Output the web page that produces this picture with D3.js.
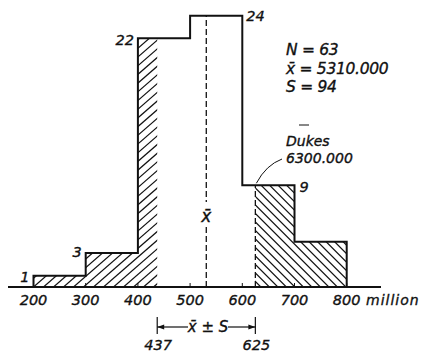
<!DOCTYPE html>
<html>
<head>
<meta charset="utf-8">
<script src="https://cdn.jsdelivr.net/npm/d3@7"></script>
<style>
  body { margin: 0; background: #fff; }
  svg text { font-family: "DejaVu Sans", sans-serif; font-style: italic; fill: #111; stroke: #111; stroke-width: 0.35px; }
</style>
</head>
<body>
<div id="chart"></div>
<script>
// bin edges (million) and counts per bin
const binStarts = [200, 300, 400, 500, 600, 700];
const binWidth = 100;
const counts = [1, 3, 22, 24, 9, 4];
const countLabels = ["1", "3", "22", "24", "9", null];
const tickValues = [200, 300, 400, 500, 600, 700, 800];

// summary statistics
const meanValue = 531;
const lowBound = 437;   // mean - S
const highBound = 625;  // mean + S
const statLines = ["N = 63", "x\u0304 = 5310.000", "S = 94"];
const dukesLines = ["Dukes", "6300.000"];

const width = 422, height = 354;

const svg = d3.select('#chart').append('svg')
    .attr('width', width)
    .attr('height', height);

const x = d3.scaleLinear().domain([200, 800]).range([33.5, 346.7]);
const y = d3.scaleLinear().domain([0, 24]).range([287, 15.7]);

const bins = binStarts.map((s, i) => ({ x0: s, x1: s + binWidth, n: counts[i], label: countLabels[i] }));

// Function to build clip rects of the histogram area between two values
function areaRects(a, b) {
    return bins.filter(d => d.x1 > a && d.x0 < b).map(d => ({
        x0: Math.max(d.x0, a), x1: Math.min(d.x1, b), n: d.n
    }));
}

const defs = svg.append('defs');

function addHatch(id, a, b, dir, spacing, slope) {
    const clip = defs.append('clipPath').attr('id', id);
    clip.selectAll('rect')
        .data(areaRects(a, b))
        .enter().append('rect')
        .attr('x', d => x(d.x0))
        .attr('y', d => y(d.n))
        .attr('width', d => x(d.x1) - x(d.x0))
        .attr('height', d => y(0) - y(d.n));

    const g = svg.append('g').attr('clip-path', `url(#${id})`);
    const left = x(a) - 360, right = x(b) + 360;
    for (let s = left; s < right; s += spacing) {
        // dir 1 = "/" , dir -1 = "\"
        g.append('line')
            .attr('x1', s).attr('y1', y(0))
            .attr('x2', s + dir * 300).attr('y2', y(0) - 300 * slope)
            .attr('stroke', '#111')
            .attr('stroke-width', 1.2);
    }
}

addHatch('hatchLeft', 200, lowBound, 1, 10, 0.87);
addHatch('hatchRight', highBound, 800, -1, 8.5, 1);

// histogram outline as a step path
let pts = [[200, 0]];
bins.forEach(d => { pts.push([d.x0, d.n]); pts.push([d.x1, d.n]); });
pts.push([800, 0]);
svg.append('path')
    .attr('d', d3.line().x(p => x(p[0])).y(p => y(p[1]))(pts))
    .attr('fill', 'none')
    .attr('stroke', '#111')
    .attr('stroke-width', 2)
    .attr('stroke-linejoin', 'miter');

// baseline axis
svg.append('line')
    .attr('x1', 8).attr('x2', 381)
    .attr('y1', y(0)).attr('y2', y(0))
    .attr('stroke', '#111').attr('stroke-width', 1.8);

svg.selectAll('.tick')
    .data(tickValues)
    .enter().append('line')
    .attr('x1', d => x(d)).attr('x2', d => x(d))
    .attr('y1', y(0)).attr('y2', y(0) - 4)
    .attr('stroke', '#111').attr('stroke-width', 1);

svg.selectAll('.ticklabel')
    .data(tickValues)
    .enter().append('text')
    .attr('x', d => x(d))
    .attr('y', 305)
    .attr('text-anchor', 'middle')
    .attr('font-size', 14.5)
    .text(d => d);

svg.append('text')
    .attr('x', 366).attr('y', 305)
    .attr('font-size', 14)
    .attr('letter-spacing', 1)
    .text('million');

// mean dashed line
svg.append('line')
    .attr('x1', x(meanValue)).attr('x2', x(meanValue))
    .attr('y1', y(0)).attr('y2', y(24))
    .attr('stroke', '#111').attr('stroke-width', 1.3)
    .attr('stroke-dasharray', '6,3');

// dashed line at mean + S up to the bar it falls in
const hiBin = bins.find(d => highBound >= d.x0 && highBound < d.x1);
svg.append('line')
    .attr('x1', x(highBound)).attr('x2', x(highBound))
    .attr('y1', y(0)).attr('y2', y(hiBin.n))
    .attr('stroke', '#111').attr('stroke-width', 1.3)
    .attr('stroke-dasharray', '6,3');

svg.append('rect')
    .attr('x', x(meanValue) - 7).attr('y', 202)
    .attr('width', 14).attr('height', 22)
    .attr('fill', '#fff');
svg.append('text')
    .attr('x', x(meanValue)).attr('y', 222)
    .attr('text-anchor', 'middle')
    .attr('font-size', 17)
    .text('x\u0304');

// count labels
const labelPos = {
    "1": { dx: -4, dy: 6, anchor: 'end', at: d => x(d.x0) },
    "3": { dx: -4, dy: 4, anchor: 'end', at: d => x(d.x0) },
    "22": { dx: -4, dy: 7, anchor: 'end', at: d => x(d.x0) },
    "24": { dx: 4, dy: 5, anchor: 'start', at: d => x(d.x1) },
    "9": { dx: 5, dy: 7, anchor: 'start', at: d => x(d.x1) }
};
bins.filter(d => d.label).forEach(d => {
    const p = labelPos[d.label];
    svg.append('text')
        .attr('x', p.at(d) + p.dx)
        .attr('y', y(d.n) + p.dy)
        .attr('text-anchor', p.anchor)
        .attr('font-size', 14.5)
        .text(d.label);
});

// mean +/- S bracket
const by = 327;
[lowBound, highBound].forEach(v => {
    svg.append('line')
        .attr('x1', x(v)).attr('x2', x(v))
        .attr('y1', 317).attr('y2', 334)
        .attr('stroke', '#111').attr('stroke-width', 1.2);
});
svg.append('line')
    .attr('x1', x(lowBound)).attr('x2', 188)
    .attr('y1', by).attr('y2', by)
    .attr('stroke', '#111').attr('stroke-width', 1.2);
svg.append('line')
    .attr('x1', 228).attr('x2', x(highBound))
    .attr('y1', by).attr('y2', by)
    .attr('stroke', '#111').attr('stroke-width', 1.2);
svg.append('path')
    .attr('d', `M${x(lowBound)},${by} l7,-2.5 l0,5 Z`)
    .attr('fill', '#111');
svg.append('path')
    .attr('d', `M${x(highBound)},${by} l-7,-2.5 l0,5 Z`)
    .attr('fill', '#111');
svg.append('text')
    .attr('x', 208).attr('y', by + 5)
    .attr('text-anchor', 'middle')
    .attr('font-size', 15)
    .text('x\u0304 \u00b1 S');

svg.selectAll('.boundlabel')
    .data([lowBound, highBound])
    .enter().append('text')
    .attr('x', d => x(d) + 1)
    .attr('y', 350)
    .attr('text-anchor', 'middle')
    .attr('font-size', 14.5)
    .text(d => d);

// statistics block
svg.selectAll('.stat')
    .data(statLines)
    .enter().append('text')
    .attr('x', 286)
    .attr('y', (d, i) => 55 + i * 18.5)
    .attr('font-size', 15.5)
    .attr('letter-spacing', -0.3)
    .text(d => d);

// stray mark above the Dukes note
svg.append('line')
    .attr('x1', 299).attr('x2', 309)
    .attr('y1', 125).attr('y2', 125)
    .attr('stroke', '#111').attr('stroke-width', 1);

svg.selectAll('.dukes')
    .data(dukesLines)
    .enter().append('text')
    .attr('x', 286)
    .attr('y', (d, i) => 146 + i * 17)
    .attr('font-size', 14)
    .text(d => d);

// leader from the Dukes note to the bar
svg.append('path')
    .attr('d', `M${x(highBound) + 1},${y(hiBin.n) - 2} Q266,165 282,159`)
    .attr('fill', 'none')
    .attr('stroke', '#111').attr('stroke-width', 1);
</script>
</body>
</html>
